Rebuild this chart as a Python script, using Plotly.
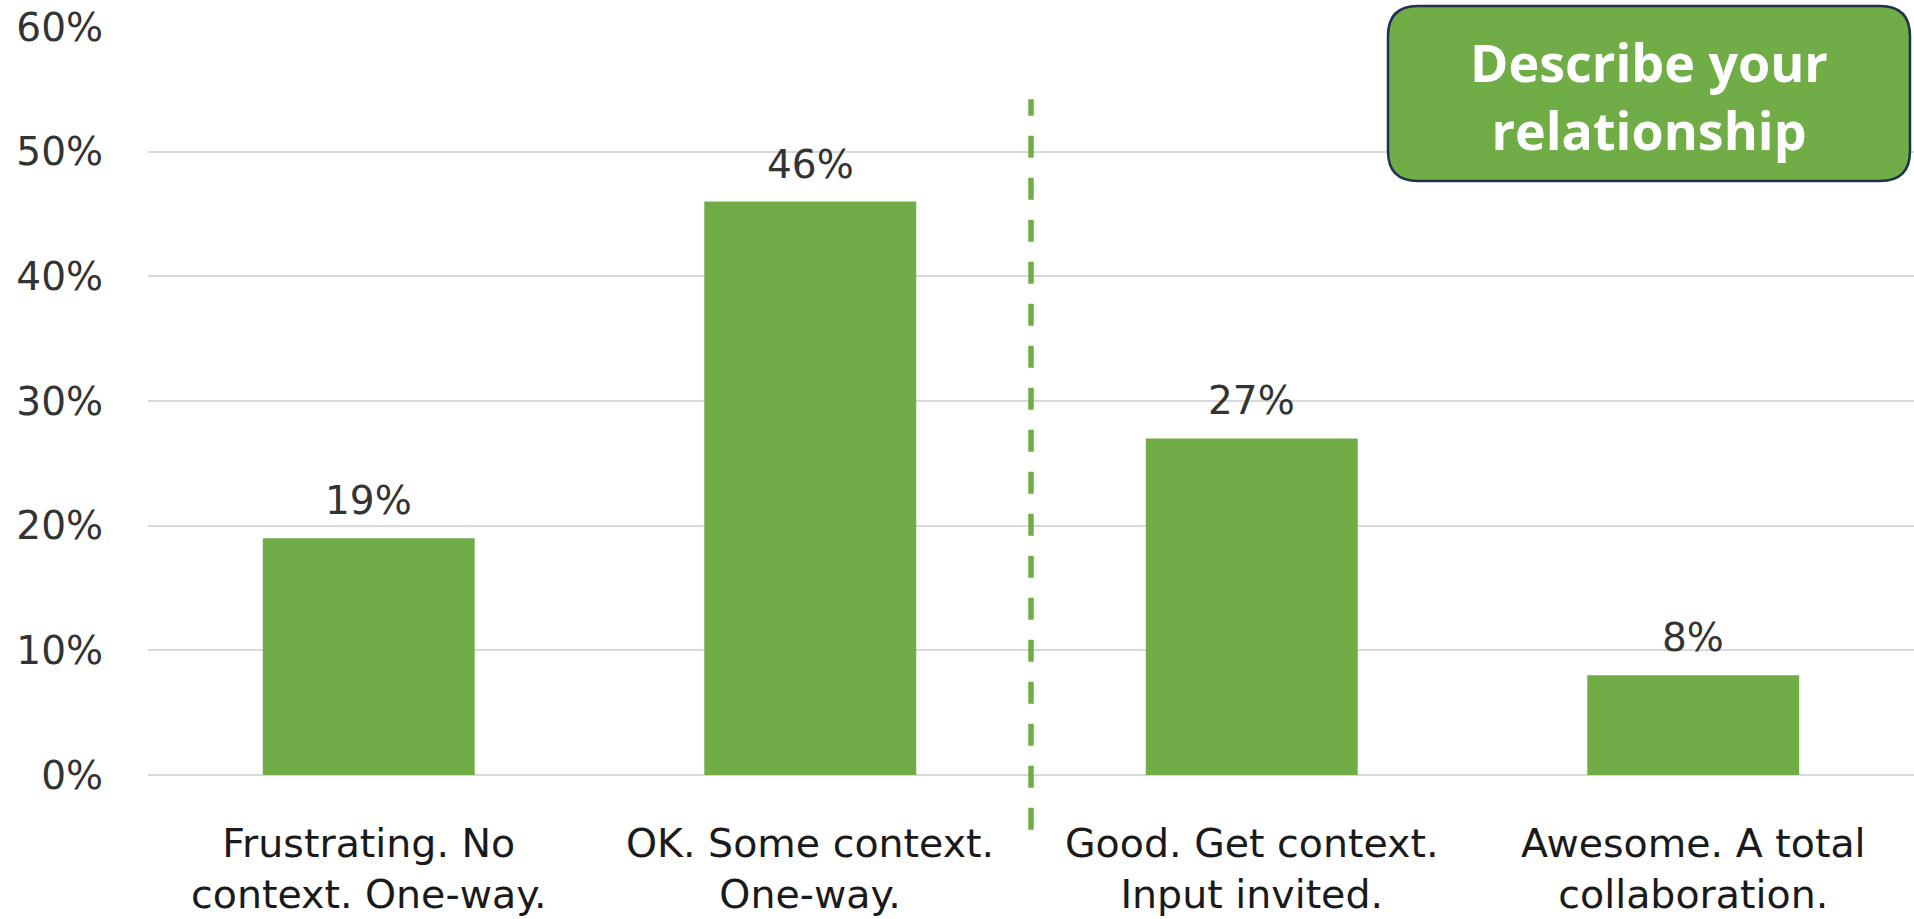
import plotly.graph_objects as go

categories = ["Frustrating. No<br>context. One-way.",
              "OK. Some context.<br>One-way.",
              "Good. Get context.<br>Input invited.",
              "Awesome. A total<br>collaboration."]
values = [19, 46, 27, 8]
value_labels = ["19%", "46%", "27%", "8%"]
tick_vals = [0, 10, 20, 30, 40, 50, 60]
tick_text = ["0%", "10%", "20%", "30%", "40%", "50%", "60%"]
title_text = "Describe your<br>relationship"
divider_x = 1.5
divider_y = [-4.4, 54.2]

GREEN = "#70AD47"
W, H = 1914, 919
L, R, T, B = 148, 0, 27, 144
PW, PH = W - L - R, H - T - B
XR = [-0.5, 3.5]
YR = [0, 60]

xs = list(range(len(categories)))

fig = go.Figure()
fig.add_trace(go.Bar(x=xs, y=values, marker_color=GREEN, marker_line_width=0,
                     width=0.48, hoverinfo="skip"))

# value labels above bars
for x, v, t in zip(xs, values, value_labels):
    fig.add_annotation(x=x, y=v, text=t, showarrow=False, yanchor="bottom",
                       yshift=13, font=dict(family="DejaVu Sans", size=39, color="#333333"))

# category labels (two lines each)
for x, c in zip(xs, categories):
    fig.add_annotation(x=x, xref="x", yref="paper", y=0, yanchor="middle",
                       yshift=-93, text=c, showarrow=False, align="center",
                       font=dict(family="DejaVu Sans", size=39.5, color="#1a1a1a"))

# divider dashed line (paper coords so it is not clipped below the axis)
dx = (divider_x - XR[0]) / (XR[1] - XR[0])
dy0 = (divider_y[0] - YR[0]) / (YR[1] - YR[0])
dy1 = (divider_y[1] - YR[0]) / (YR[1] - YR[0])
fig.add_shape(type="line", xref="paper", yref="paper", x0=dx, x1=dx, y0=dy0, y1=dy1,
              line=dict(color=GREEN, width=5.5, dash="22px,20px"), layer="above")

# rounded title box
def P(px, py):
    return f"{(px - L) / PW:.5f},{(H - B - py) / PH:.5f}"

bx0, by0, bx1, by1, rad = 1388, 6, 1910, 181, 30
path = (f"M {P(bx0+rad, by0)} L {P(bx1-rad, by0)} Q {P(bx1, by0)} {P(bx1, by0+rad)} "
        f"L {P(bx1, by1-rad)} Q {P(bx1, by1)} {P(bx1-rad, by1)} "
        f"L {P(bx0+rad, by1)} Q {P(bx0, by1)} {P(bx0, by1-rad)} "
        f"L {P(bx0, by0+rad)} Q {P(bx0, by0)} {P(bx0+rad, by0)} Z")
fig.add_shape(type="path", xref="paper", yref="paper", path=path,
              fillcolor=GREEN, line=dict(color="#1F3050", width=2.5), layer="above")
cx = ((bx0 + bx1) / 2 - L) / PW
cy = (H - B - ((by0 + by1) / 2 + 2)) / PH
fig.add_annotation(xref="paper", yref="paper", x=cx, y=cy, text=title_text,
                   showarrow=False, xanchor="center", yanchor="middle",
                   font=dict(family="Open Sans", size=52, color="white", weight="bold"))

fig.update_layout(
    width=W, height=H, margin=dict(l=L, r=R, t=T, b=B),
    plot_bgcolor="white", paper_bgcolor="white", showlegend=False,
)
fig.update_xaxes(range=XR, showticklabels=False, showgrid=False,
                 zeroline=False, showline=False, fixedrange=True)
fig.update_yaxes(range=YR, tickvals=tick_vals, ticktext=tick_text,
                 showgrid=True, gridcolor="#D9D9D9", gridwidth=1.5,
                 zeroline=True, zerolinecolor="#D9D9D9", zerolinewidth=1.5,
                 ticks="", ticklabelstandoff=44,
                 tickfont=dict(family="DejaVu Sans", size=39, color="#333333"),
                 fixedrange=True)

fig.write_html("out.html")
